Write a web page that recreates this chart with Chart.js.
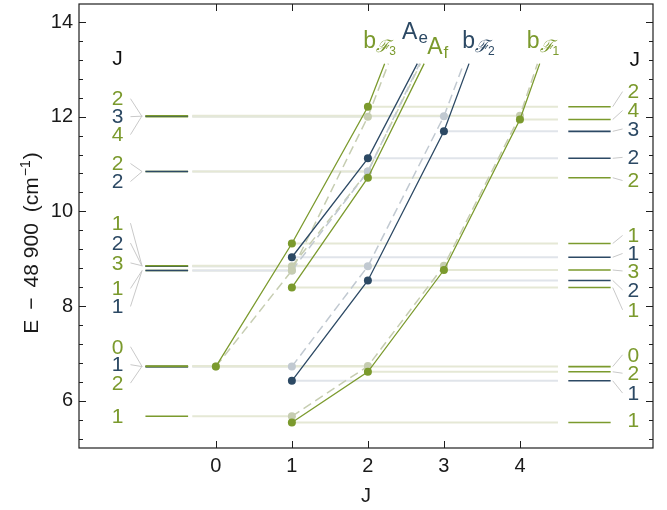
<!DOCTYPE html>
<html>
<head>
<meta charset="utf-8">
<script src="https://cdn.jsdelivr.net/npm/chart.js@4.4.1/dist/chart.umd.min.js"></script>
<style>
  html, body { margin: 0; padding: 0; background: #fff; }
</style>
</head>
<body>
<canvas id="levels" width="667" height="510"></canvas>
<script>
// level energies (E - 48900, cm^-1)
const J_bF3 = [0, 1, 2];
const calc_bF3 = [6.72, 9.32, 12.21];
const obs_bF3 = [6.72, 8.75, 12.00];

const J_Ae = [1, 2];
const calc_Ae = [9.03, 11.12];
const obs_Ae = [8.75, 10.84];

const J_Af = [1, 2];
const calc_Af = [8.39, 10.71];
const obs_Af = [8.84, 10.84];

const J_bF2 = [1, 2, 3];
const calc_bF2 = [6.42, 8.54, 11.69];
const obs_bF2 = [6.72, 8.84, 12.01];

const J_bF1 = [1, 2, 3, 4];
const calc_bF1 = [5.54, 6.61, 8.76, 11.94];
const obs_bF1 = [5.67, 6.73, 8.85, 12.02];

// where the branch lines run out at the top
const topE = 13.12;
const calcEndJ = [2.22, 2.65, 2.74, 3.33, 4.26];
const obsEndJ = [2.27, 2.68, 2.69, 3.26, 4.23];

// level ladders: [branch, J]
const leftLevels = [['bF3', 2], ['bF2', 3], ['bF1', 4], ['Af', 2], ['Ae', 2],
  ['Af', 1], ['bF2', 2], ['bF1', 3], ['bF3', 1], ['Ae', 1],
  ['bF3', 0], ['bF2', 1], ['bF1', 2], ['bF1', 1]];
const leftLabelE = [12.38, 12.00, 11.62, 11.01, 10.63, 9.75, 9.33, 8.91, 8.37, 7.99, 7.14, 6.76, 6.37, 5.67];

const rightLevels = [['bF3', 2], ['bF1', 4], ['bF2', 3], ['Ae', 2], ['Af', 2],
  ['bF3', 1], ['Ae', 1], ['bF1', 3], ['bF2', 2], ['Af', 1],
  ['bF3', 0], ['bF1', 2], ['bF2', 1], ['bF1', 1]];
const rightLabelE = [12.53, 12.13, 11.74, 11.14, 10.65, 9.49, 9.11, 8.74, 8.34, 7.92, 6.97, 6.58, 6.16, 5.59];

const xTicks = [0, 1, 2, 3, 4];
const yTicks = [6, 8, 10, 12, 14];

const FONT = "'Liberation Sans', Arial, sans-serif";
const GREEN = '#7b9a2d', NAVY = '#2c4964';
const GREEN_LIGHT = '#c6cdb1', NAVY_LIGHT = '#c1c9d1';
const GREEN_LEVEL = '#e5e8d5', NAVY_LEVEL = '#e0e4ea';
const GRAY = '#c9c9c9';

const branches = [
  { key: 'bF3', J: J_bF3, calc: calc_bF3, obs: obs_bF3, green: true },
  { key: 'Ae', J: J_Ae, calc: calc_Ae, obs: obs_Ae, green: false },
  { key: 'Af', J: J_Af, calc: calc_Af, obs: obs_Af, green: true },
  { key: 'bF2', J: J_bF2, calc: calc_bF2, obs: obs_bF2, green: false },
  { key: 'bF1', J: J_bF1, calc: calc_bF1, obs: obs_bF1, green: true }
];
const byKey = {};
branches.forEach(b => { byKey[b.key] = b; });

const seriesLabels = [
  { key: 'bF3', main: 'b', sub: 'ℱ', idx: '3', x: 1.94, y: 13.46 },
  { key: 'Ae', main: 'A', sub: 'e', x: 2.45, y: 13.65 },
  { key: 'Af', main: 'A', sub: 'f', x: 2.78, y: 13.33 },
  { key: 'bF2', main: 'b', sub: 'ℱ', idx: '2', x: 3.24, y: 13.46 },
  { key: 'bF1', main: 'b', sub: 'ℱ', idx: '1', x: 4.09, y: 13.46 }
];

function color(b) { return b.green ? GREEN : NAVY; }
function light(b) { return b.green ? GREEN_LIGHT : NAVY_LIGHT; }

const datasets = [];
branches.forEach((b, k) => {
  const n = b.J.length;
  datasets.push({
    data: b.J.map((j, i) => ({ x: j, y: b.calc[i] })).concat([{ x: calcEndJ[k], y: topE }]),
    showLine: true,
    borderColor: color(b),
    borderWidth: 1.3,
    pointRadius: c => c.dataIndex < n ? 4 : 0,
    pointBackgroundColor: color(b),
    pointBorderWidth: 0,
    order: 0
  });
  datasets.push({
    data: b.J.map((j, i) => ({ x: j, y: b.obs[i] })).concat([{ x: obsEndJ[k], y: topE }]),
    showLine: true,
    borderColor: light(b),
    borderWidth: 1.5,
    borderDash: [9, 5],
    pointRadius: c => c.dataIndex < n ? 4 : 0,
    pointBackgroundColor: light(b),
    pointBorderWidth: 0,
    order: 1
  });
});

function seg(ctx, x1, y1, x2, y2, col, w) {
  ctx.strokeStyle = col;
  ctx.lineWidth = w;
  ctx.beginPath();
  ctx.moveTo(x1, y1);
  ctx.lineTo(x2, y2);
  ctx.stroke();
}

function hasNeighbour(arr, i) {
  return arr.some((v, k) => k !== i && Math.abs(v - arr[i]) < 0.5);
}

// rotated axis title with a real superscript
function drawYTitle(ctx, a) {
  const parts = [
    ['E', 21, 0, 10], ['−', 21, 0, 10], ['48', 21, 0, 6], ['900', 21, 0, 11],
    ['(cm', 21, 0, 1], ['−1', 14, -8, 1], [')', 21, 0, 0]
  ];
  ctx.save();
  ctx.fillStyle = '#1a1a1a';
  ctx.textBaseline = 'alphabetic';
  ctx.textAlign = 'left';
  let total = 0;
  parts.forEach(p => { ctx.font = p[1] + 'px ' + FONT; total += ctx.measureText(p[0]).width + p[3]; });
  const cy = (a.top + a.bottom) / 2 + 17;
  ctx.translate(38, cy);
  ctx.rotate(-Math.PI / 2);
  let pos = -total / 2;
  parts.forEach(p => {
    ctx.font = p[1] + 'px ' + FONT;
    ctx.fillText(p[0], pos, p[2]);
    pos += ctx.measureText(p[0]).width + p[3];
  });
  ctx.restore();
}

const ladderPlugin = {
  id: 'ladder',
  beforeDatasetsDraw(chart) {
    const { ctx, scales: { x, y } } = chart;
    ctx.save();
    const x0 = x.getPixelForValue(-0.31), x1 = x.getPixelForValue(4.5);
    branches.forEach(b => {
      const lc = b.green ? GREEN_LEVEL : NAVY_LEVEL;
      b.J.forEach((j, i) => {
        const py = y.getPixelForValue(b.obs[i]);
        seg(ctx, x0, py, x.getPixelForValue(j), py, lc, 2);
      });
    });
    branches.forEach(b => {
      const lc = b.green ? GREEN_LEVEL : NAVY_LEVEL;
      b.J.forEach((j, i) => {
        const py = y.getPixelForValue(b.calc[i]);
        seg(ctx, x.getPixelForValue(j), py, x1, py, lc, 2);
      });
    });
    ctx.restore();
  },
  afterDatasetsDraw(chart) {
    const { ctx, scales: { x, y } } = chart;
    ctx.save();
    // left ladder (observed)
    const ls0 = x.getPixelForValue(-0.926), ls1 = x.getPixelForValue(-0.365);
    const lc0 = x.getPixelForValue(-1.123), lc1 = x.getPixelForValue(-0.97);
    const lt = x.getPixelForValue(-1.294);
    ctx.font = '21px ' + FONT;
    ctx.textAlign = 'center';
    ctx.textBaseline = 'middle';
    leftLevels.forEach(([key, j], i) => {
      const b = byKey[key];
      const e = b.obs[b.J.indexOf(j)];
      const py = y.getPixelForValue(e), ly = y.getPixelForValue(leftLabelE[i]);
      seg(ctx, ls0, py, ls1, py, color(b), 1.6);
      if (hasNeighbour(leftLabelE, i)) seg(ctx, lc0, ly, lc1, py, GRAY, 1);
      ctx.fillStyle = color(b);
      ctx.fillText(String(j), lt, ly + 1);
    });
    // right ladder (calculated)
    const rs0 = x.getPixelForValue(4.636), rs1 = x.getPixelForValue(5.193);
    const rc0 = x.getPixelForValue(5.22), rc1 = x.getPixelForValue(5.35);
    const rt = x.getPixelForValue(5.49);
    rightLevels.forEach(([key, j], i) => {
      const b = byKey[key];
      const e = b.calc[b.J.indexOf(j)];
      const py = y.getPixelForValue(e), ly = y.getPixelForValue(rightLabelE[i]);
      seg(ctx, rs0, py, rs1, py, color(b), 1.6);
      if (hasNeighbour(rightLabelE, i)) seg(ctx, rc0, py, rc1, ly, GRAY, 1);
      ctx.fillStyle = color(b);
      ctx.fillText(String(j), rt, ly + 1);
    });
    // J headers
    ctx.fillStyle = '#111';
    ctx.fillText('J', lt, y.getPixelForValue(13.22));
    ctx.fillText('J', x.getPixelForValue(5.51), y.getPixelForValue(13.2));
    // branch labels
    ctx.textAlign = 'left';
    ctx.textBaseline = 'alphabetic';
    seriesLabels.forEach(l => {
      const b = byKey[l.key];
      const px = x.getPixelForValue(l.x), py = y.getPixelForValue(l.y);
      ctx.fillStyle = color(b);
      ctx.font = '23px ' + FONT;
      ctx.fillText(l.main, px, py);
      const w = ctx.measureText(l.main).width;
      if (l.idx) {
        ctx.font = "italic 17px 'DejaVu Serif', serif";
        ctx.fillText(l.sub, px + w, py + 4);
        const w2 = ctx.measureText(l.sub).width;
        ctx.font = '12px ' + FONT;
        ctx.fillText(l.idx, px + w + w2 - 1, py + 7);
      } else {
        ctx.font = '17px ' + FONT;
        ctx.fillText(l.sub, px + w + 1, py + 4);
      }
    });
    ctx.restore();
  },
  afterDraw(chart) {
    const { ctx, chartArea: a, scales: { x, y } } = chart;
    ctx.save();
    ctx.strokeStyle = '#1e1e1e';
    ctx.lineWidth = 1.2;
    ctx.strokeRect(a.left, a.top, a.right - a.left, a.bottom - a.top);
    for (let v = 5.2; v <= 14.38; v += 0.4) {
      const py = Math.round(y.getPixelForValue(v)) + 0.5;
      const major = yTicks.some(t => Math.abs(t - v) < 1e-6);
      const len = major ? 7 : 4;
      seg(ctx, a.left, py, a.left + len, py, '#1e1e1e', 1);
      seg(ctx, a.right, py, a.right - len, py, '#1e1e1e', 1);
    }
    xTicks.forEach(t => {
      const px = Math.round(x.getPixelForValue(t)) + 0.5;
      seg(ctx, px, a.bottom, px, a.bottom - 7, '#1e1e1e', 1);
      seg(ctx, px, a.top, px, a.top + 7, '#1e1e1e', 1);
    });
    ctx.restore();
    drawYTitle(ctx, a);
  }
};

new Chart(document.getElementById('levels').getContext('2d'), {
  type: 'scatter',
  data: { datasets: datasets },
  options: {
    responsive: false,
    animation: false,
    layout: { padding: { left: 0, right: 14, top: 3, bottom: 0 } },
    plugins: { legend: { display: false }, tooltip: { enabled: false } },
    scales: {
      x: {
        type: 'linear', min: -1.8, max: 5.75,
        grid: { display: false, drawTicks: false },
        border: { display: false },
        afterBuildTicks: s => { s.ticks = xTicks.map(v => ({ value: v })); },
        afterFit: s => { s.height = 62; s.paddingLeft = 0; s.paddingRight = 0; },
        ticks: { color: '#1a1a1a', padding: 6, font: { family: FONT, size: 20 } },
        title: { display: true, text: 'J', color: '#1a1a1a', font: { family: FONT, size: 20 }, padding: { top: 0, bottom: 2 } }
      },
      y: {
        type: 'linear', min: 5.0, max: 14.38,
        grid: { display: false, drawTicks: false },
        border: { display: false },
        afterBuildTicks: s => { s.ticks = yTicks.map(v => ({ value: v })); },
        afterFit: s => { s.width = 79; s.paddingTop = 0; s.paddingBottom = 0; },
        ticks: { color: '#1a1a1a', padding: 6, font: { family: FONT, size: 20 } },
        title: { display: false }
      }
    }
  },
  plugins: [ladderPlugin]
});
</script>
</body>
</html>
